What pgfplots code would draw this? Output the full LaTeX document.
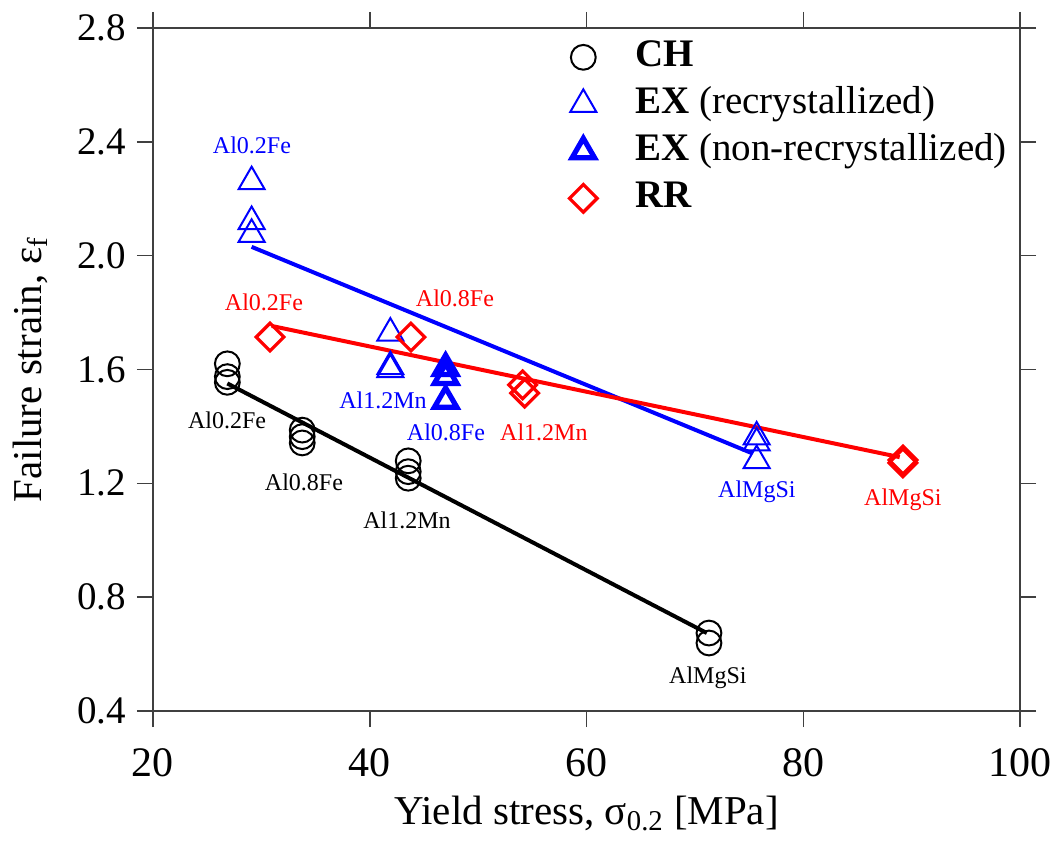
\documentclass[border=0pt]{standalone}
\usepackage{fontspec}
\setmainfont{Liberation Serif}
\usepackage{pgfplots}
\pgfplotsset{compat=1.18}
\begin{document}
\begin{tikzpicture}
\begin{axis}[
  name=ax,
  scale only axis,
  width=433.5pt, height=341.5pt,
  xmin=20, xmax=100, ymin=0.4, ymax=2.8,
  xtick={20,40,60,80,100},
  ytick={0.4,0.8,1.2,1.6,2.0,2.4,2.8},
  /pgf/number format/assume math mode=true,
  tick align=outside,
  major tick length=8pt,
  xtick pos=both, ytick pos=both,
  xticklabel pos=lower, yticklabel pos=left,
  axis line style={black!75, line width=0.75pt},
  every tick/.style={black!75, line width=0.75pt},
  ticklabel style={font=\fontsize{19.5}{23}\selectfont},
  xticklabel style={font=\fontsize{21}{24}\selectfont, yshift=-7pt},
  yticklabel style={xshift=-2pt, /pgf/number format/.cd,fixed,fixed zerofill,precision=1},
  label style={font=\fontsize{20.5}{24}\selectfont},
  xlabel style={yshift=-3pt},
  ylabel style={yshift=8pt},
  xlabel={Yield stress, σ\textsubscript{0.2} [MPa]},
  ylabel={Failure strain, ε\textsubscript{f}},
  clip=false,
  legend style={at={(axis cs:57.3,2.795)}, anchor=north west, draw=none, fill=none,
    font=\fontsize{19.5}{23}\selectfont, row sep=0pt,
    nodes={inner sep=2pt, text height=14.5pt, text depth=5pt}},
  legend cell align=left,
  legend image code/.code={\path (0cm,0cm) (1.1cm,0cm); \draw[mark repeat=2,mark phase=2,#1] plot coordinates {(0cm,0cm) (0.3cm,0cm) (0.6cm,0cm)};},
]
% fit lines
\addplot[black, line width=2pt, forget plot] coordinates {(26.86,1.551) (71.1,0.674)};
\addplot[blue, line width=2pt, forget plot] coordinates {(29.1,2.031) (75.26,1.306)};
\addplot[red, line width=2pt, forget plot] coordinates {(30.95,1.753) (88.9,1.292)};
% CH
\addplot[only marks, mark=o, mark size=6.2pt, black, line width=1pt] coordinates {
 (26.86,1.62) (26.86,1.575) (26.86,1.555)
 (33.77,1.387) (33.77,1.364) (33.77,1.342)
 (43.55,1.279) (43.55,1.241) (43.55,1.218)
 (71.3,0.674) (71.3,0.639)};
\addlegendentry{\textbf{CH}}
% EX recrystallized
\addplot[only marks, mark=triangle, mark size=7.5pt, blue, line width=1pt] coordinates {
 (29.1,2.26) (29.1,2.12) (29.1,2.075)
 (41.9,1.728) (41.9,1.61) (41.9,1.60)
 (75.7,1.363) (75.7,1.342) (75.7,1.28)};
\addlegendentry{\textbf{EX} (recrystallized)}
% EX non-recrystallized
\addplot[only marks, mark=triangle, mark size=6.5pt, blue, line width=2.6pt] coordinates {
 (47.0,1.605) (47.0,1.574) (47.0,1.49)};
\addlegendentry{\textbf{EX} (non-recrystallized)}
% RR
\addplot[only marks, mark=square, mark size=4.9pt, mark options={rotate=45}, red, line width=1.6pt] coordinates {
 (30.8,1.714) (43.8,1.714) (54.1,1.546) (54.3,1.517) (89.2,1.282) (89.2,1.272)};
\addlegendentry{\textbf{RR}}
% annotations
\node[blue, font=\fontsize{12}{14}\selectfont] at (axis cs:29.13,2.389) {Al0.2Fe};
\node[red, font=\fontsize{12}{14}\selectfont] at (axis cs:30.24,1.837) {Al0.2Fe};
\node[red, font=\fontsize{12}{14}\selectfont] at (axis cs:47.86,1.851) {Al0.8Fe};
\node[blue, font=\fontsize{12}{14}\selectfont] at (axis cs:41.22,1.493) {Al1.2Mn};
\node[blue, font=\fontsize{12}{14}\selectfont] at (axis cs:47.03,1.380) {Al0.8Fe};
\node[red, font=\fontsize{12}{14}\selectfont] at (axis cs:56.07,1.380) {Al1.2Mn};
\node[black, font=\fontsize{12}{14}\selectfont] at (axis cs:26.83,1.422) {Al0.2Fe};
\node[black, font=\fontsize{12}{14}\selectfont] at (axis cs:33.93,1.205) {Al0.8Fe};
\node[black, font=\fontsize{12}{14}\selectfont] at (axis cs:43.43,1.071) {Al1.2Mn};
\node[black, font=\fontsize{12}{14}\selectfont] at (axis cs:71.2,0.516) {AlMgSi};
\node[blue, font=\fontsize{12}{14}\selectfont] at (axis cs:75.72,1.170) {AlMgSi};
\node[red, font=\fontsize{12}{14}\selectfont] at (axis cs:89.19,1.142) {AlMgSi};
\coordinate (bl) at (rel axis cs:0,0);
\coordinate (tr) at (rel axis cs:1,1);
\end{axis}
\pgfresetboundingbox
\path[use as bounding box] ([xshift=-76.5pt,yshift=-65pt]bl) rectangle ([xshift=18.5pt,yshift=14pt]tr);
\end{tikzpicture}
\end{document}
